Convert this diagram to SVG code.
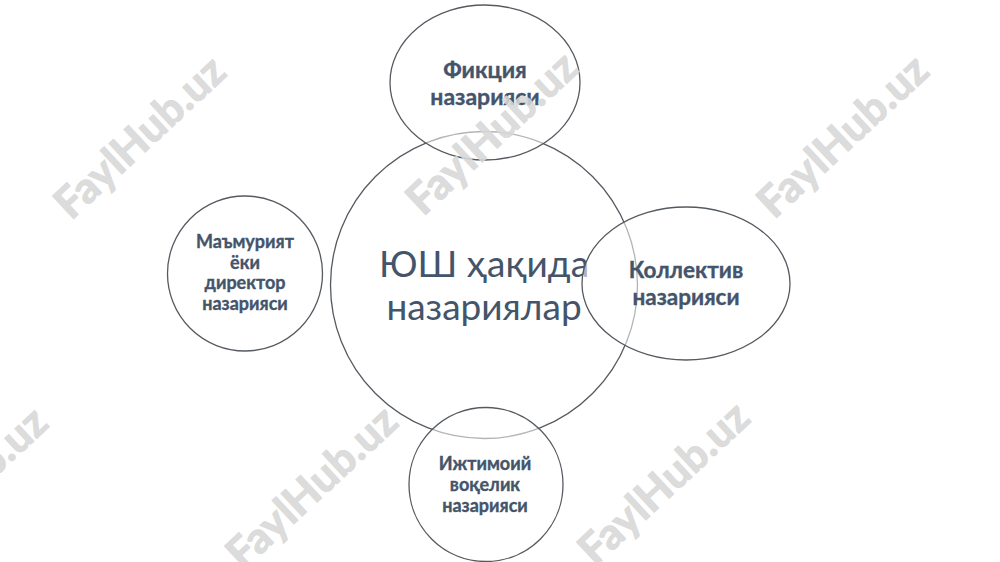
<svg xmlns="http://www.w3.org/2000/svg" width="1000" height="562" viewBox="0 0 1000 562">
<style>
.shape{stroke:#555a60;stroke-width:1.3}
.main{fill:none}
.sat{fill:#ffffff;fill-opacity:0.55}
.lbl{font-family:Lato,"Noto Sans",sans-serif;font-weight:bold;fill:#44546a;stroke:#44546a;stroke-width:0.35;text-anchor:middle}
.big{font-family:Lato,"Noto Sans",sans-serif;font-weight:normal;fill:#44546a;text-anchor:middle;font-size:37px}
.wm{font-family:Lato,"Noto Sans",sans-serif;font-weight:900;fill:#d8d8d8;stroke:#d8d8d8;stroke-width:0.6;fill-opacity:0.9;stroke-opacity:0.9;text-anchor:middle;font-size:43.5px}
</style>
<rect width="1000" height="562" fill="#ffffff"/>
<g id="connectors"></g>
<g id="center">
<circle class="shape main" cx="484" cy="285" r="153.5"/>
<text class="big" x="484" y="277">ЮШ ҳақида</text>
<text class="big" x="484" y="320">назариялар</text>
</g>
<g id="fikciya">
<ellipse class="shape sat" cx="485" cy="82.5" rx="95" ry="77.5"/>
<text class="lbl" font-size="23" x="485" y="78">Фикция</text>
<text class="lbl" font-size="23" x="485" y="105">назарияси</text>
</g>
<g id="mamuriyat">
<circle class="shape sat" cx="245" cy="273.5" r="77.5"/>
<text class="lbl" font-size="18" x="245" y="248">Маъмурият</text>
<text class="lbl" font-size="18" x="245" y="268.5">ёки</text>
<text class="lbl" font-size="18" x="245" y="289">директор</text>
<text class="lbl" font-size="18" x="245" y="309.5">назарияси</text>
</g>
<g id="kollektiv">
<ellipse class="shape sat" cx="686" cy="283.5" rx="104" ry="76.5"/>
<text class="lbl" font-size="22.5" x="686" y="278">Коллектив</text>
<text class="lbl" font-size="22.5" x="686" y="305">назарияси</text>
</g>
<g id="ijtimoiy">
<circle class="shape sat" cx="486" cy="484.5" r="77"/>
<text class="lbl" font-size="18" x="485" y="470">Ижтимоий</text>
<text class="lbl" font-size="18" x="485" y="491">воқелик</text>
<text class="lbl" font-size="18" x="485" y="512">назарияси</text>
</g>
<g id="watermarks">
<text class="wm" transform="translate(150,148) rotate(-43)">FaylHub.uz</text>
<text class="wm" transform="translate(502,144) rotate(-43)">FaylHub.uz</text>
<text class="wm" transform="translate(853,147) rotate(-43)">FaylHub.uz</text>
<text class="wm" transform="translate(-28,499) rotate(-43)">FaylHub.uz</text>
<text class="wm" transform="translate(322,498) rotate(-43)">FaylHub.uz</text>
<text class="wm" transform="translate(674,494) rotate(-43)">FaylHub.uz</text>
</g>
</svg>
